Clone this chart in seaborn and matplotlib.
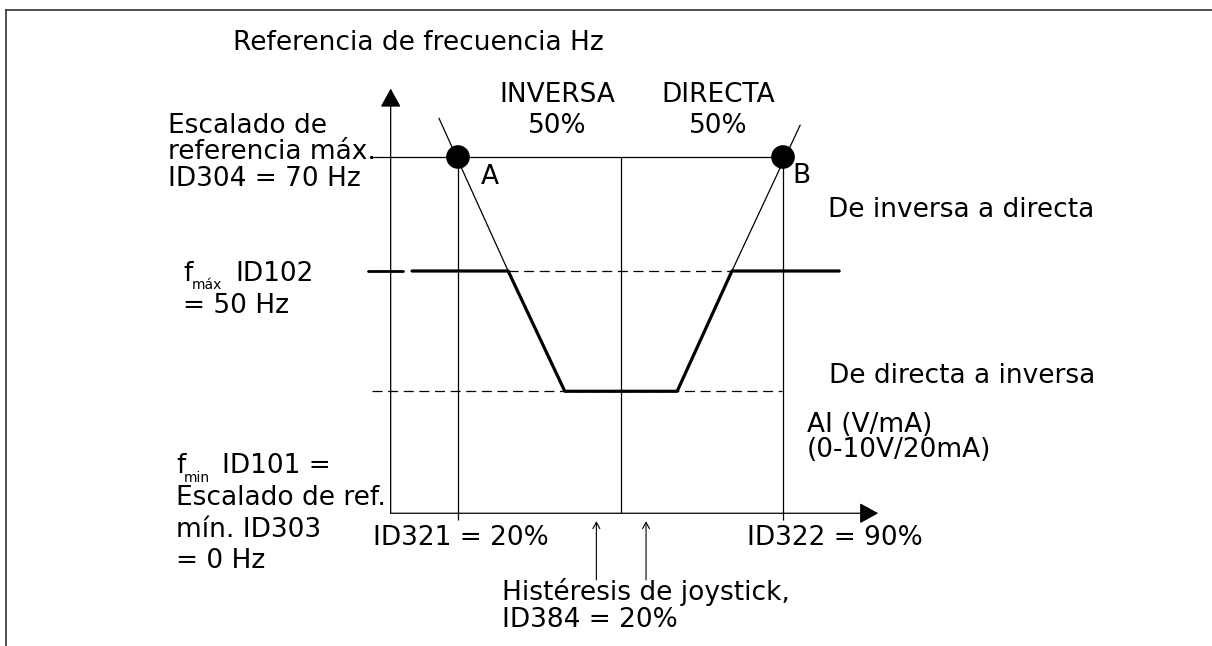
import matplotlib
matplotlib.use("Agg")
import matplotlib.pyplot as plt
import seaborn as sns
import pandas as pd

# schematic: AI input in %, frequency reference in Hz
ai_limits = [20, 90]              # ID321, ID322
ai_mid = 55
hyst_marks = [49.8, 60.5]         # joystick hysteresis arrows
f_scale_max = 70                  # ID304
f_max = 50                        # ID102
f_low = 28.9                      # lower level of the curve
axis_x0, axis_y0 = 5.5, 7.5
axis_x_end, axis_y_end = 110.5, 82
top_line_x0 = 1.0
vert_bottom = 6.3
hyst_y = [-4.2, 6.1]

curve_ai = [10.1, 30.8, 43.0, 67.2, 79.0, 102.1]
curve_f = [50, 50, f_low, f_low, 50, 50]
rev_ai = [15.9, 30.8]
rev_f = [76.8, 50]
fwd_ai = [79.0, 93.7]
fwd_f = [50, 75.6]
left_dash_ai = [0.6, 8.2]
low_dash_ai = [1.5, 89.8]

W, H = 1212, 646


def x_of_px(p):
    return 20 + (p - 458) / 4.643


def y_of_px(p):
    return 50 - (p - 271) / 5.7


sns.set_theme(style="white")
plt.rcParams['font.family'] = ['DejaVu Sans']

fig = plt.figure(figsize=(W / 100, H / 100), dpi=100)
ax = fig.add_axes([6 / W, 0, (W - 6) / W, (H - 10) / H])
ax.set_xlim(x_of_px(6), x_of_px(W))
ax.set_ylim(y_of_px(H), y_of_px(10))
ax.set_xticks([])
ax.set_yticks([])
for s in ['right', 'bottom']:
    ax.spines[s].set_visible(False)
for s in ['left', 'top']:
    ax.spines[s].set_color('#333333')
    ax.spines[s].set_linewidth(1.2)

thin = 0.9
k = 'black'

# axes with arrows
ax.annotate("", xy=(axis_x0, axis_y_end), xytext=(axis_x0, axis_y0),
            arrowprops=dict(arrowstyle='-|>,head_length=0.58,head_width=0.32',
                            color=k, lw=thin, shrinkA=0, shrinkB=0, mutation_scale=20))
ax.annotate("", xy=(axis_x_end, axis_y0), xytext=(axis_x0, axis_y0),
            arrowprops=dict(arrowstyle='-|>,head_length=0.58,head_width=0.32',
                            color=k, lw=thin, shrinkA=0, shrinkB=0, mutation_scale=20))

# top line and verticals
ax.plot([top_line_x0, ai_limits[1]], [f_scale_max, f_scale_max], color=k, lw=thin)
ax.vlines(ai_limits, vert_bottom, f_scale_max, color=k, lw=thin)
ax.vlines([ai_mid], axis_y0, f_scale_max, color=k, lw=thin)

# dashed levels
ax.plot(left_dash_ai, [f_max, f_max], color=k, lw=2.0)
ax.plot([curve_ai[1], curve_ai[4]], [f_max, f_max], color=k, lw=thin,
        linestyle=(0, (8, 4.5)))
ax.plot(low_dash_ai, [f_low, f_low], color=k, lw=thin, linestyle=(0, (8, 4.5)))

# thin scaling lines through A and B
ax.plot(rev_ai, rev_f, color=k, lw=thin)
ax.plot(fwd_ai, fwd_f, color=k, lw=thin)

# thick reference curve
df = pd.DataFrame({'ai': curve_ai, 'f': curve_f})
sns.lineplot(data=df, x='ai', y='f', sort=False, color=k, lw=2.3, ax=ax)
ax.set_xlabel('')
ax.set_ylabel('')

# points A and B
sns.scatterplot(x=ai_limits, y=[f_scale_max] * 2, s=290, color=k,
                edgecolor='none', zorder=5, ax=ax)

# hysteresis arrows
for xh in hyst_marks:
    ax.annotate("", xy=(xh, hyst_y[1]), xytext=(xh, hyst_y[0]),
                arrowprops=dict(arrowstyle='->,head_length=0.45,head_width=0.25',
                                color=k, lw=0.8, shrinkA=0, shrinkB=0, mutation_scale=10))

fs = 19


def txt(x, y, s, size=fs, ha='left'):
    fig.text(x / W, 1 - y / H, s, fontsize=size, ha=ha, va='baseline', color=k)


def block(x, ys, lines, ha='left'):
    for yy, s in zip(ys, lines):
        txt(x, yy, s, ha=ha)


txt(233, 50, "Referencia de frecuencia Hz")
block(168, [133, 159, 186], ["Escalado de", "referencia máx.", "ID304 = 70 Hz"])
block(557, [102, 133], ["INVERSA", "50%"], ha='center')
block(718, [102, 133], ["DIRECTA", "50%"], ha='center')
txt(481, 184, "A")
txt(792, 183, "B")
txt(828, 217, "De inversa a directa")
txt(829, 383, "De directa a inversa")
block(807, [432, 457], ["AI (V/mA)", "(0-10V/20mA)"])

txt(183, 281, "f")
txt(192, 289, "máx", size=10)
txt(235, 281, "ID102")
txt(183, 313, "= 50 Hz")

txt(176, 473, "f")
txt(184, 482, "min", size=10)
txt(222, 473, "ID101 =")
block(176, [505, 537, 568], ["Escalado de ref.", "mín. ID303", "= 0 Hz"])

txt(373, 545, "ID321 = 20%")
txt(747, 545, "ID322 = 90%")
block(502, [600, 627], ["Histéresis de joystick,", "ID384 = 20%"])

fig.savefig("out.png", dpi=100)
